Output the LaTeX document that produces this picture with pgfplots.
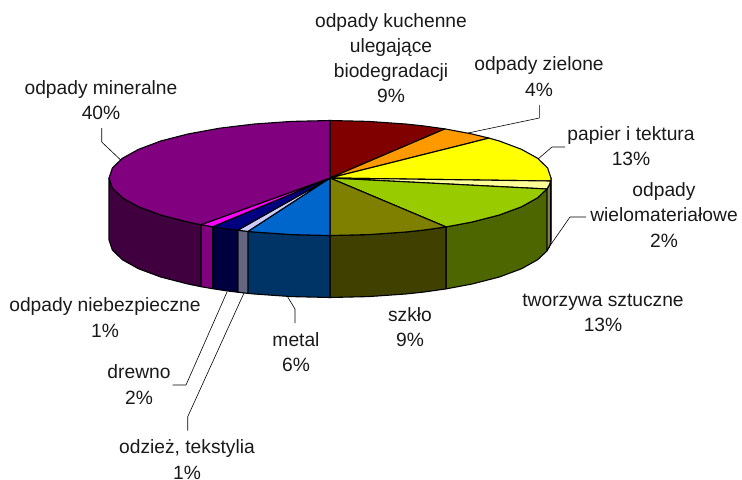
\documentclass[border=0pt]{standalone}
\usepackage{pgfplots}
\pgfplotsset{compat=1.18}
\usepackage{fontspec}
\setmainfont{Liberation Sans}
\definecolor{cA}{HTML}{800000}\definecolor{cB}{HTML}{FF9900}\definecolor{cC}{HTML}{FFFF00}
\definecolor{cD}{HTML}{FFFF99}\definecolor{cE}{HTML}{99CC00}\definecolor{cF}{HTML}{808000}
\definecolor{cG}{HTML}{0066CC}\definecolor{cH}{HTML}{CCCCFF}\definecolor{cI}{HTML}{000080}
\definecolor{cJ}{HTML}{FF00FF}\definecolor{cK}{HTML}{800080}
\definecolor{sC}{HTML}{808000}\definecolor{sD}{HTML}{80804D}\definecolor{sE}{HTML}{4D6600}
\definecolor{sF}{HTML}{404000}\definecolor{sG}{HTML}{003366}\definecolor{sH}{HTML}{666680}
\definecolor{sI}{HTML}{000040}\definecolor{sJ}{HTML}{800080}\definecolor{sK}{HTML}{400040}
\tikzset{lab/.style={align=center,font=\fontsize{19.3}{25.3}\selectfont,inner sep=0pt,text=black!90}}
\begin{document}
\begin{tikzpicture}
\begin{axis}[hide axis,scale only axis,width=742bp,height=480bp,xmin=0,xmax=742,ymin=0,ymax=480,y dir=reverse,clip=false,
  every axis plot/.append style={draw=black,line width=1.1pt,line join=round}]
% side walls, back to front
\addplot[fill=sC] coordinates {(551,178)(550.7,181)(550.7,243)(551,240)} --cycle;
\addplot[fill=sD] coordinates {(550.7,181)(549.3,185)(546.9,189)(546.9,251)(549.3,247)(550.7,243)} --cycle;
\addplot[fill=sE] coordinates {(546.9,189)(537.7,197.7)(521.4,206.8)(499.3,215)(472.1,222)(446,226.9)(446,288.9)(472.1,284)(499.3,277)(521.4,268.8)(537.7,259.7)(546.9,251)} --cycle;
\addplot[fill=sF] coordinates {(446,226.9)(423.4,230.1)(405.6,232)(368.4,234.6)(330,235.5)(330,297.5)(368.4,296.6)(405.6,294)(423.4,292.1)(446,288.9)} --cycle;
\addplot[fill=sG] coordinates {(330,235.5)(291.6,234.6)(254.4,232)(247.9,231.4)(247.9,293.4)(254.4,294)(291.6,296.6)(330,297.5)} --cycle;
\addplot[fill=sH] coordinates {(247.9,231.4)(237.7,230.2)(237.7,292.2)(247.9,293.4)} --cycle;
\addplot[fill=sI] coordinates {(237.7,230.2)(226.2,228.8)(212.7,226.7)(212.7,288.7)(226.2,290.8)(237.7,292.2)} --cycle;
\addplot[fill=sJ] coordinates {(212.7,226.7)(201,224.7)(201,286.7)(212.7,288.7)} --cycle;
\addplot[fill=sK] coordinates {(201,224.7)(187.9,222)(160.7,215)(138.6,206.8)(122.3,197.7)(112.4,188)(109,178)(109,240)(112.4,250)(122.3,259.7)(138.6,268.8)(160.7,277)(187.9,284)(201,286.7)} --cycle;
% top faces
\addplot[fill=cA] coordinates {(330,178)(330,120.5)(368.4,121.4)(405.6,124)(423.4,125.9)(445,128.9)} --cycle;
\addplot[fill=cB] coordinates {(330,178)(445,128.9)(472.1,134)(489,138.1)} --cycle;
\addplot[fill=cC] coordinates {(330,178)(489,138.1)(499.3,141)(521.4,149.3)(537.7,158.3)(547.6,168)(551,178)(550.7,181)} --cycle;
\addplot[fill=cD] coordinates {(330,178)(550.7,181)(549.3,185)(546.9,189)} --cycle;
\addplot[fill=cE] coordinates {(330,178)(546.9,189)(537.7,197.7)(521.4,206.8)(499.3,215)(472.1,222)(446,226.9)} --cycle;
\addplot[fill=cF] coordinates {(330,178)(446,226.9)(423.4,230.1)(405.6,232)(368.4,234.6)(330,235.5)} --cycle;
\addplot[fill=cG] coordinates {(330,178)(330,235.5)(291.6,234.6)(254.4,232)(247.9,231.4)} --cycle;
\addplot[fill=cH] coordinates {(330,178)(247.9,231.4)(237.7,230.2)} --cycle;
\addplot[fill=cI] coordinates {(330,178)(237.7,230.2)(226.2,228.8)(212.7,226.7)} --cycle;
\addplot[fill=cJ] coordinates {(330,178)(212.7,226.7)(201,224.7)} --cycle;
\addplot[fill=cK] coordinates {(330,178)(201,224.7)(187.9,222)(160.7,215)(138.6,206.8)(122.3,197.7)(112.4,188)(109,178)(112.4,168)(122.3,158.3)(138.6,149.3)(160.7,141)(187.9,134)(219.5,128.2)(254.4,124)(291.6,121.4)(330,120.5)} --cycle;
% leader lines
\addplot[line width=0.6pt] coordinates {(120.7,160)(101.7,142)(101.7,128)};
\addplot[line width=0.6pt] coordinates {(468,133)(539.3,118)(539.3,105)};
\addplot[line width=0.6pt] coordinates {(538,159)(552,147)(565,147)};
\addplot[line width=0.6pt] coordinates {(547,250)(570,217)(586,217)};
\addplot[line width=0.6pt] coordinates {(287.7,297)(295,309)(295,323)};
\addplot[line width=0.6pt] coordinates {(227,292)(186,385)(172.7,385)};
\addplot[line width=0.6pt] coordinates {(244,293)(187.7,416.7)(187.7,430.7)};
% labels
\node[lab] at (axis cs:101,100) {odpady mineralne\\40\%};
\node[lab] at (axis cs:391,58) {odpady kuchenne\\ulegające\\biodegradacji\\9\%};
\node[lab] at (axis cs:539,76.5) {odpady zielone\\4\%};
\node[lab] at (axis cs:631,146) {papier i tektura\\13\%};
\node[lab] at (axis cs:664,215) {odpady\\wielomateriałowe\\2\%};
\node[lab] at (axis cs:603,313) {tworzywa sztuczne\\13\%};
\node[lab] at (axis cs:410,327) {szkło\\9\%};
\node[lab] at (axis cs:296,352.5) {metal\\6\%};
\node[lab] at (axis cs:105,317.5) {odpady niebezpieczne\\1\%};
\node[lab] at (axis cs:139,384.5) {drewno\\2\%};
\node[lab] at (axis cs:187,459.5) {odzież, tekstylia\\1\%};
\end{axis}
\pgfresetboundingbox
\path[use as bounding box] (0,0) rectangle (742bp,480bp);
\end{tikzpicture}
\end{document}
